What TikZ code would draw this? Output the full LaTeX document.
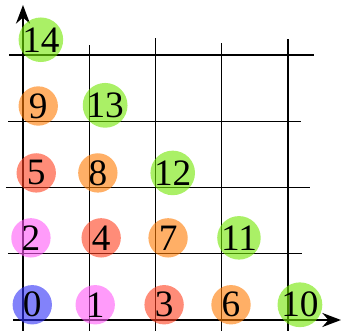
\documentclass[tikz,border=0pt]{standalone}
\usepackage{fontspec}
\setmainfont{Liberation Serif}
\usetikzlibrary{arrows.meta}
\definecolor{diagzero}{RGB}{47,47,247}
\definecolor{diagone}{RGB}{255,88,247}
\definecolor{diagtwo}{RGB}{255,63,30}
\definecolor{diagthree}{RGB}{255,122,0}
\definecolor{diagfour}{RGB}{113,230,0}
\tikzset{
  gridline/.style={line width=0.45pt},
  axisline/.style={line width=1pt,-{Stealth[length=8pt,width=6pt]}},
  pairdot/.style={circle,fill=#1,fill opacity=0.6,text opacity=1,
    minimum size=0.594cm,inner sep=0pt,font=\fontsize{16}{19}\selectfont}
}
\begin{document}
\begin{tikzpicture}
  \useasboundingbox (-0.347,-0.166) rectangle (4.800,4.830);
  % grid
  \draw[gridline] (-0.21,4) -- (4.39,4);
  \draw[gridline] (-0.22,3) -- (4.20,3);
  \draw[gridline] (-0.26,2) -- (4.33,2);
  \draw[gridline] (-0.23,1) -- (4.21,1);
  \draw[gridline] (1,-0.2) -- (1,4.155);
  \draw[gridline] (2,-0.2) -- (2,4.26);
  \draw[gridline] (3,-0.2) -- (3,4.18);
  \draw[gridline] (4,-0.2) -- (4,4.24);
  % axes
  \draw[axisline] (-0.15,0) -- (4.80,0);
  \draw[axisline] (0,-0.2) -- (0,4.755);
  % numbered pairs
  \foreach \lbl/\x/\y/\col in {0/0.14/0.23/diagzero,
      1/1.09/0.23/diagone, 2/0.12/1.24/diagone,
      3/2.13/0.23/diagtwo, 4/1.18/1.24/diagtwo, 5/0.20/2.22/diagtwo,
      6/3.14/0.23/diagthree, 7/2.19/1.24/diagthree, 8/1.13/2.22/diagthree, 9/0.23/3.23/diagthree,
      10/4.18/0.23/diagfour, 11/3.26/1.24/diagfour, 12/2.26/2.22/diagfour, 13/1.24/3.24/diagfour, 14/0.27/4.23/diagfour}
    \node[pairdot=\col] (n\lbl) at (\x,\y) {\lbl};
\end{tikzpicture}
\end{document}
